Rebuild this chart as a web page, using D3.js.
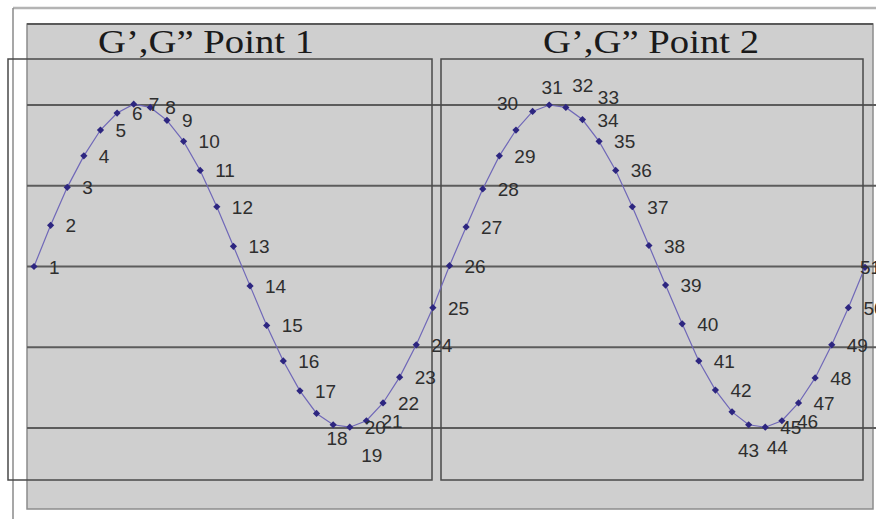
<!DOCTYPE html>
<html>
<head>
<meta charset="utf-8">
<script src="https://cdn.jsdelivr.net/npm/d3@7"></script>
<style>
  html, body { margin: 0; padding: 0; background: #fff; }
  svg { display: block; }
</style>
</head>
<body>
<div id="chart"></div>
<script>
// point numbers along the curve
var pointNumbers = [1, 2, 3, 4, 5, 6, 7, 8, 9, 10, 11, 12, 13, 14, 15, 16, 17, 18, 19, 20,
  21, 22, 23, 24, 25, 26, 27, 28, 29, 30, 31, 32, 33, 34, 35, 36, 37, 38, 39, 40,
  41, 42, 43, 44, 45, 46, 47, 48, 49, 50, 51];

// G', G" value at each point
var gValues = [0.00, 0.51, 0.98, 1.37, 1.69, 1.90, 2.01, 1.97, 1.81, 1.55,
  1.19, 0.74, 0.25, -0.24, -0.73, -1.17, -1.54, -1.82, -1.96, -1.99,
  -1.91, -1.69, -1.37, -0.97, -0.51, 0.01, 0.49, 0.96, 1.37, 1.69,
  1.92, 2.00, 1.97, 1.82, 1.55, 1.19, 0.74, 0.26, -0.23, -0.71,
  -1.17, -1.53, -1.80, -1.96, -1.99, -1.91, -1.69, -1.38, -0.97, -0.51, -0.01];

var panelTitles = ["G\u2019,G\u201D Point 1", "G\u2019,G\u201D Point 2"];

// horizontal grid levels
var gridLevels = [2, 1, 0, -1, -2];

var width = 876, height = 519;

var svg = d3.select("#chart")
  .append("svg")
  .attr("width", width)
  .attr("height", height);

var x = d3.scaleLinear().domain([1, 51]).range([34, 865]);
var y = d3.scaleLinear().domain([-2, 2]).range([428, 105]);

// outer page lines
svg.append("line")
  .attr("x1", 13).attr("x2", width).attr("y1", 8).attr("y2", 8)
  .style("stroke", "#b4b4b4").style("stroke-width", 2.5);
svg.append("line")
  .attr("x1", 13).attr("x2", 13).attr("y1", 8).attr("y2", height)
  .style("stroke", "#8a8a8a").style("stroke-width", 1.5);

// grey panel
svg.append("rect")
  .attr("x", 27).attr("y", 24)
  .attr("width", 846).attr("height", 485)
  .style("fill", "#cfcfcf")
  .style("stroke", "#8c8c8c")
  .style("stroke-width", 1.5);
svg.append("line")
  .attr("x1", 27).attr("x2", 873).attr("y1", 24).attr("y2", 24)
  .style("stroke", "#5a5a5a").style("stroke-width", 2);

// grid lines
svg.selectAll(".grid")
  .data(gridLevels)
  .enter()
  .append("line")
  .attr("class", "grid")
  .attr("x1", 27)
  .attr("x2", width)
  .attr("y1", function(d) { return y(d); })
  .attr("y2", function(d) { return y(d); })
  .style("stroke", "#5c5c5c")
  .style("stroke-width", 2);

// the two plot frames
var frames = [
  { x0: 8, x1: 432 },
  { x0: 441, x1: 863 }
];
svg.selectAll(".frame")
  .data(frames)
  .enter()
  .append("rect")
  .attr("class", "frame")
  .attr("x", function(d) { return d.x0; })
  .attr("y", 59)
  .attr("width", function(d) { return d.x1 - d.x0; })
  .attr("height", 421)
  .style("fill", "none")
  .style("stroke", "#4a4a4a")
  .style("stroke-width", 1.5);

// titles
var titleCenters = [206, 651];
svg.selectAll(".title")
  .data(panelTitles)
  .enter()
  .append("text")
  .attr("class", "title")
  .attr("x", function(d, i) { return titleCenters[i] - 108; })
  .attr("y", 53)
  .attr("textLength", 216)
  .attr("lengthAdjust", "spacingAndGlyphs")
  .text(function(d) { return d; })
  .style("font-family", "'Liberation Serif', 'Times New Roman', serif")
  .style("font-size", "33px")
  .style("fill", "#1a1a1a");

var points = pointNumbers.map(function(n, i) { return { n: n, v: gValues[i] }; });

// curve
var line = d3.line()
  .x(function(d) { return x(d.n); })
  .y(function(d) { return y(d.v); });

svg.append("path")
  .datum(points)
  .attr("d", line)
  .style("fill", "none")
  .style("stroke", "#7068b8")
  .style("stroke-width", 1.2);

// diamond markers
svg.selectAll(".pt")
  .data(points)
  .enter()
  .append("path")
  .attr("class", "pt")
  .attr("d", d3.symbol().type(d3.symbolSquare).size(26))
  .attr("transform", function(d) { return "translate(" + x(d.n) + "," + y(d.v) + ") rotate(45)"; })
  .style("fill", "#2d2680");

// labels; a few were dragged away from the curve in the original
var nudge = {
  18: [-5, 25], 19: [13, 30],
  30: [-34, -27], 31: [-6, -24], 32: [8, -20], 33: [17, -10],
  43: [-9, 38], 44: [3, 22], 51: [-20, 0]
};

svg.selectAll(".lbl")
  .data(points)
  .enter()
  .append("text")
  .attr("class", "lbl")
  .attr("x", function(d) { return x(d.n) + 15 + (nudge[d.n] ? nudge[d.n][0] : 0); })
  .attr("y", function(d) { return y(d.v) + 7 + (nudge[d.n] ? nudge[d.n][1] : 0); })
  .text(function(d) { return d.n; })
  .style("font-family", "'Liberation Sans', Arial, sans-serif")
  .style("font-size", "19px")
  .style("fill", "#2e2e2e");
</script>
</body>
</html>
